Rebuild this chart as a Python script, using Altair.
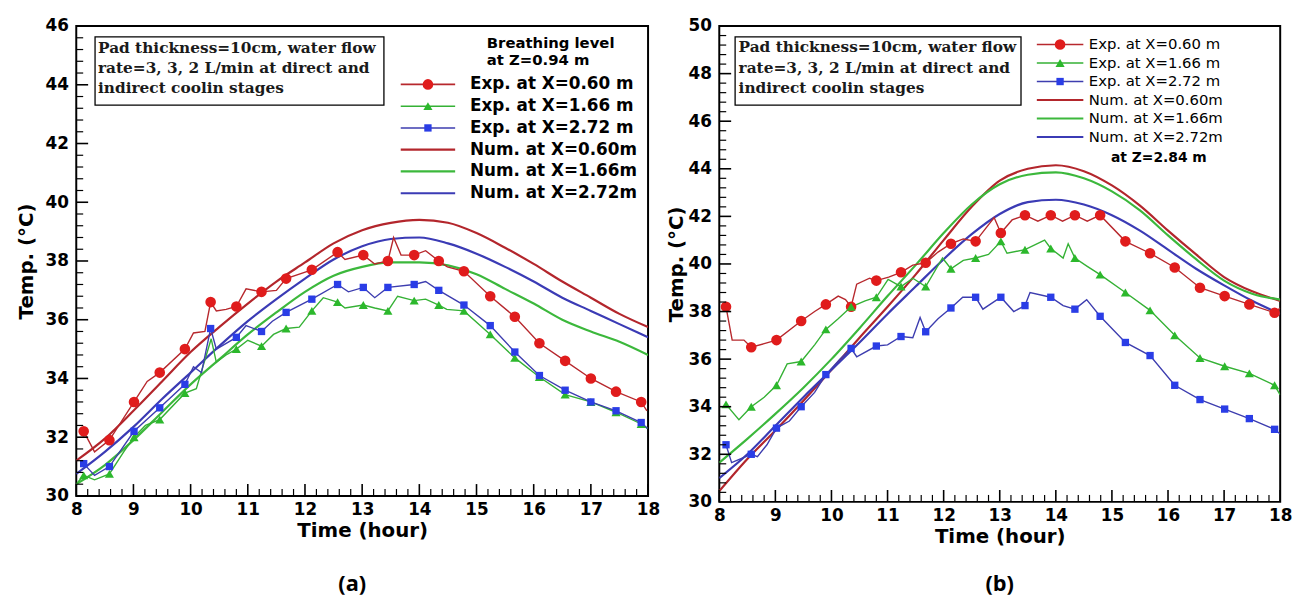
import altair as alt
import pandas as pd
import numpy as np

# ---------------- series names ----------------
EXP = ["Exp. at X=0.60 m", "Exp. at X=1.66 m", "Exp. at X=2.72 m"]
NUM = ["Num. at X=0.60m", "Num. at X=1.66m", "Num. at X=2.72m"]

# ---------------- panel (a): breathing level Z = 0.94 m ----------------
a_marker_t = [8.13, 8.58, 9.01, 9.46, 9.90, 10.35, 10.80, 11.24, 11.67, 12.12, 12.57, 13.02,
              13.45, 13.91, 14.34, 14.78, 15.24, 15.67, 16.10, 16.55, 17.00, 17.44, 17.88]
a_exp_060 = [32.2, 31.9, 33.2, 34.2, 35.0, 36.6, 36.45, 36.95, 37.4, 37.7, 38.3, 38.2,
             38.0, 38.2, 38.0, 37.65, 36.8, 36.1, 35.2, 34.6, 34.0, 33.55, 33.2]
a_exp_166 = [30.7, 30.75, 32.0, 32.6, 33.5, None, 35.0, 35.1, 35.7, 36.3, 36.6, 36.5,
             36.3, 36.65, 36.5, 36.3, 35.5, 34.7, 34.05, 33.45, 33.2, 32.85, 32.45]
a_exp_272 = [31.1, 31.0, 32.2, 33.0, 33.8, 35.7, 35.4, 35.6, 36.25, 36.7, 37.2, 37.1,
             37.1, 37.2, 37.0, 36.5, 35.8, 34.9, 34.1, 33.6, 33.2, 32.9, 32.5]
# intermediate (unmarked) vertices of the experimental curves
a_x060_t = [8.32, 9.24, 10.05, 10.25, 10.45, 10.62, 10.97, 11.50, 12.70, 13.22, 13.55, 13.68, 14.11, 14.49, 17.98]
a_x060_T = [31.5, 33.9, 35.55, 35.6, 36.3, 36.35, 37.05, 37.0, 38.05, 37.9, 38.8, 38.2, 38.35, 37.8, 32.9]
a_x166_t = [8.02, 8.32, 8.83, 9.21, 10.10, 10.36, 10.45, 10.62, 11.00, 11.45, 11.90, 12.32, 12.70,
            13.22, 13.62, 14.11, 14.48, 17.99]
a_x166_T = [30.45, 30.55, 31.5, 32.4, 33.65, 35.35, 34.55, 34.8, 35.3, 35.5, 35.75, 36.75, 36.4,
            36.4, 36.8, 36.7, 36.35, 32.3]
a_x272_t = [8.32, 10.05, 10.19, 10.45, 10.97, 11.43, 12.76, 13.22, 14.11, 17.99]
a_x272_T = [30.7, 34.4, 34.2, 35.0, 35.8, 35.95, 36.95, 36.75, 37.3, 32.3]

num_t = [8.0, 8.5, 9.0, 9.5, 10.0, 10.5, 11.0, 11.5, 12.0, 12.5, 13.0,
         13.5, 14.0, 14.5, 15.0, 15.5, 16.0, 16.5, 17.0, 17.5, 18.0]
a_num_060 = [31.2, 31.95, 32.9, 33.9, 34.9, 35.75, 36.55, 37.3, 37.95, 38.6, 39.05,
             39.3, 39.4, 39.3, 38.95, 38.45, 37.9, 37.3, 36.75, 36.2, 35.75]
a_num_166 = [30.4, 31.05, 31.9, 32.85, 33.8, 34.65, 35.5, 36.25, 36.95, 37.5, 37.8,
             37.95, 37.95, 37.85, 37.55, 37.05, 36.55, 36.0, 35.6, 35.25, 34.8]
a_num_272 = [30.75, 31.5, 32.35, 33.3, 34.2, 35.1, 35.95, 36.7, 37.4, 38.05, 38.5,
             38.75, 38.8, 38.6, 38.25, 37.8, 37.3, 36.75, 36.3, 35.85, 35.4]

# ---------------- panel (b): Z = 2.84 m ----------------
b_marker_t = [8.12, 8.57, 9.02, 9.46, 9.90, 10.35, 10.80, 11.24, 11.68, 12.13, 12.57, 13.02,
              13.45, 13.91, 14.34, 14.79, 15.24, 15.68, 16.12, 16.57, 17.01, 17.45, 17.90]
b_exp_060 = [38.2, 36.5, 36.8, 37.6, 38.3, 38.2, 39.3, 39.65, 40.05, 40.85, 40.95, 41.3,
             42.05, 42.05, 42.05, 42.05, 40.95, 40.45, 39.85, 39.0, 38.65, 38.3, 37.95]
b_exp_166 = [34.1, 34.0, 34.9, 35.9, 37.25, 38.2, 38.6, 39.05, 39.05, 39.8, 40.25, 40.95,
             40.6, 40.65, 40.25, 39.55, 38.8, 38.05, 37.0, 36.05, 35.7, 35.4, 34.9]
b_exp_272 = [32.4, 32.0, 33.1, 34.0, 35.35, 36.45, 36.55, 36.95, 37.15, 38.15, 38.6, 38.6,
             38.25, 38.6, 38.1, 37.8, 36.7, 36.15, 34.9, 34.3, 33.9, 33.5, 33.05]
b_x060_t = [8.23, 8.44, 8.80, 9.70, 10.12, 10.25, 10.45, 10.68, 11.02, 11.45, 11.90, 12.35,
            12.90, 13.22, 13.68, 14.12, 14.56, 18.0]
b_x060_T = [36.8, 36.8, 36.65, 38.0, 38.65, 38.5, 39.15, 39.4, 39.45, 39.95, 40.5, 41.05,
            41.95, 41.85, 41.8, 41.8, 41.8, 38.15]
b_x166_t = [8.35, 8.80, 9.21, 9.70, 10.12, 10.60, 11.01, 11.45, 11.98, 12.35, 12.80, 13.13,
            13.80, 14.13, 14.22, 14.56, 18.0]
b_x166_T = [33.45, 34.4, 35.8, 36.6, 37.7, 38.45, 39.35, 39.4, 40.25, 40.15, 40.4, 40.45,
            41.0, 40.25, 40.85, 39.9, 34.5]
b_x272_t = [8.22, 8.68, 8.85, 9.25, 9.70, 10.15, 10.45, 11.00, 11.45, 11.58, 11.90, 12.34,
            12.70, 13.25, 13.54, 14.13, 14.55, 18.0]
b_x272_T = [31.65, 31.9, 32.4, 33.4, 34.6, 36.0, 36.1, 36.6, 36.9, 37.75, 37.7, 38.6,
            38.1, 38.0, 38.8, 38.25, 38.5, 32.85]
b_num_060 = [30.45, 31.8, 33.0, 34.25, 35.55, 36.9, 38.2, 39.55, 41.0, 42.4, 43.5,
             44.0, 44.15, 43.9, 43.3, 42.45, 41.4, 40.4, 39.45, 38.85, 38.45]
b_num_166 = [31.65, 32.65, 33.7, 34.8, 36.0, 37.3, 38.65, 39.95, 41.3, 42.5, 43.35,
             43.75, 43.85, 43.6, 43.05, 42.25, 41.2, 40.2, 39.3, 38.75, 38.5]
b_num_272 = [31.0, 32.0, 33.2, 34.4, 35.55, 36.7, 37.9, 39.05, 40.2, 41.25, 42.1,
             42.6, 42.7, 42.5, 42.05, 41.4, 40.6, 39.8, 39.1, 38.45, 37.9]

BOX_TEXT = "Pad thickness=10cm, water flow\nrate=3, 3, 2 L/min at direct and\nindirect coolin stages"

# ---------------- styling ----------------
LINE_COLORS = ["#b7282d", "#35b135", "#3d3daf", "#b3262c", "#3cb83c", "#3b3bb5"]
MARK_COLORS = ["#e01c1c", "#2cb82c", "#2a3de6"]
SHAPES = ["circle", "triangle-up", "square"]
AX_FONT = "DejaVu Sans"

color_scale = alt.Scale(domain=EXP + NUM, range=LINE_COLORS)
fill_scale = alt.Scale(domain=EXP, range=MARK_COLORS)
shape_scale = alt.Scale(domain=EXP, range=SHAPES)
size_scale = alt.Scale(domain=EXP, range=[115, 55, 85])


def exp_frames(marker_t, vals, extras):
    line_rows, mark_rows = [], []
    for name, v, (et, ev) in zip(EXP, vals, extras):
        for t, y in zip(marker_t, v):
            if y is not None:
                line_rows.append((name, t, y))
                mark_rows.append((name, t, y))
        for t, y in zip(et, ev):
            line_rows.append((name, t, y))
    cols = ["series", "t", "T"]
    return pd.DataFrame(line_rows, columns=cols), pd.DataFrame(mark_rows, columns=cols)


def num_frame(vals):
    rows = []
    for name, v in zip(NUM, vals):
        rows += [(name, t, y) for t, y in zip(num_t, v)]
    return pd.DataFrame(rows, columns=["series", "t", "T"])


def panel(marker_t, exp_vals, extras, num_vals, ymax, W, H, leg, note, box, caption, cap_dx,
          cap_offset, ytitle_pad):
    xs = alt.Scale(domain=[8, 18], nice=False, zero=False)
    ys = alt.Scale(domain=[30, ymax], nice=False, zero=False)
    x_axis = alt.Axis(values=list(range(8, 19)), format="d", ticks=False, tickSize=0, domain=False,
                      grid=False, labelFlush=False, labelOverlap=False, labelPadding=6,
                      labelFont=AX_FONT, labelFontSize=17, labelFontWeight="bold", labelColor="black",
                      title="Time (hour)", titleFont=AX_FONT, titleFontSize=20, titleFontWeight="bold",
                      titlePadding=3, titleColor="black")
    y_axis = alt.Axis(values=list(range(30, ymax + 1, 2)), ticks=False, tickSize=0, domain=False,
                      grid=False, labelOverlap=False, labelPadding=8,
                      labelFont=AX_FONT, labelFontSize=17, labelFontWeight="bold", labelColor="black",
                      title="Temp. (°C)", titleFont=AX_FONT, titleFontSize=20, titleFontWeight="bold",
                      titlePadding=ytitle_pad, titleColor="black")

    def X(field):
        return alt.X(field, scale=xs, axis=x_axis, title="Time (hour)")

    def Y(field):
        return alt.Y(field, scale=ys, axis=y_axis, title="Temp. (°C)")

    exp_line_df, exp_mark_df = exp_frames(marker_t, exp_vals, extras)
    num_df = num_frame(num_vals)

    num_lines = alt.Chart(num_df).mark_line(strokeWidth=2.2, clip=True, interpolate="monotone").encode(
        x=X("t:Q"), y=Y("T:Q"),
        color=alt.Color("series:N", scale=color_scale, legend=None),
        detail="series:N",
    )
    exp_lines = alt.Chart(exp_line_df).mark_line(strokeWidth=1.4, clip=True).encode(
        x=X("t:Q"), y=Y("T:Q"),
        color=alt.Color("series:N", scale=color_scale, legend=None),
        detail="series:N",
    )
    exp_marks = alt.Chart(exp_mark_df).mark_point(filled=True, opacity=1, strokeWidth=0).encode(
        x=X("t:Q"), y=Y("T:Q"),
        fill=alt.Fill("series:N", scale=fill_scale, legend=None),
        shape=alt.Shape("series:N", scale=shape_scale, legend=None),
        size=alt.Size("series:N", scale=size_scale, legend=None),
    )

    # inward tick marks on left and bottom edges
    y_major = pd.DataFrame({"T": list(range(30, ymax + 1, 2))})
    y_minor = pd.DataFrame({"T": [v for v in np.round(np.arange(30, ymax + 0.01, 0.4), 1)
                                  if abs(v / 2 - round(v / 2)) > 1e-6]})
    x_major = pd.DataFrame({"t": list(range(8, 19))})
    x_minor = pd.DataFrame({"t": [v for v in np.round(np.arange(8, 18.01, 0.2), 1)
                                  if abs(v - round(v)) > 1e-6]})
    ticks = [
        alt.Chart(y_major).mark_rule(color="black", strokeWidth=1.6).encode(
            y=Y("T:Q"), x=alt.value(0), x2=alt.value(12)),
        alt.Chart(y_minor).mark_rule(color="black", strokeWidth=1.2).encode(
            y=Y("T:Q"), x=alt.value(0), x2=alt.value(7)),
        alt.Chart(x_major).mark_rule(color="black", strokeWidth=1.6).encode(
            x=X("t:Q"), y=alt.value(H), y2=alt.value(H - 12)),
        alt.Chart(x_minor).mark_rule(color="black", strokeWidth=1.2).encode(
            x=X("t:Q"), y=alt.value(H), y2=alt.value(H - 7)),
    ]

    # annotation box
    one = pd.DataFrame({"k": [0]})
    box_rect = alt.Chart(one).mark_rect(fill="white", stroke="black", strokeWidth=1.3).encode(
        x=alt.value(box["x1"]), x2=alt.value(box["x2"]), y=alt.value(box["y1"]), y2=alt.value(box["y2"]))
    box_text = alt.Chart(one).mark_text(
        align="left", baseline="top", lineBreak="\n", font="DejaVu Serif", fontWeight="bold",
        fontSize=box["fs"], lineHeight=box["lh"], color="#1a1a1a").encode(
        x=alt.value(box["tx"]), y=alt.value(box["ty"]), text=alt.value(BOX_TEXT))

    # legend (pixel positions inside the plot)
    leg_df = pd.DataFrame({"series": EXP + NUM, "row": list(range(6))})
    leg_df["ly"] = leg["y0"] + leg_df["row"] * leg["dy"]
    leg_df["lx1"] = leg["x1"]
    leg_df["lx2"] = leg["x2"]
    leg_df["mx"] = (leg["x1"] + leg["x2"]) / 2
    leg_df["tx"] = leg["tx"]
    leg_exp = leg_df[leg_df["row"] < 3]
    leg_num = leg_df[leg_df["row"] >= 3]
    legend_layers = [
        alt.Chart(leg_exp).mark_rule(strokeWidth=1.6).encode(
            x=alt.X("lx1:Q", scale=None, axis=None), x2="lx2:Q", y=alt.Y("ly:Q", scale=None, axis=None),
            color=alt.Color("series:N", scale=color_scale, legend=None)),
        alt.Chart(leg_num).mark_rule(strokeWidth=2.2).encode(
            x=alt.X("lx1:Q", scale=None, axis=None), x2="lx2:Q", y=alt.Y("ly:Q", scale=None, axis=None),
            color=alt.Color("series:N", scale=color_scale, legend=None)),
        alt.Chart(leg_exp).mark_point(filled=True, opacity=1, strokeWidth=0).encode(
            x=alt.X("mx:Q", scale=None, axis=None), y=alt.Y("ly:Q", scale=None, axis=None),
            fill=alt.Fill("series:N", scale=fill_scale, legend=None),
            shape=alt.Shape("series:N", scale=shape_scale, legend=None),
            size=alt.Size("series:N", scale=size_scale, legend=None)),
        alt.Chart(leg_df).mark_text(align="left", baseline="middle", font=AX_FONT, fontSize=leg["fs"],
                                    fontWeight=leg["fw"], color="black").encode(
            x=alt.X("tx:Q", scale=None, axis=None), y=alt.Y("ly:Q", scale=None, axis=None), text="series:N"),
    ]
    note_layer = alt.Chart(one).mark_text(
        align="left", baseline="top", lineBreak="\n", font=AX_FONT, fontSize=note["fs"],
        fontWeight=note["fw"], lineHeight=note["lh"], color="black").encode(
        x=alt.value(note["x"]), y=alt.value(note["y"]), text=alt.value(note["text"]))

    return alt.layer(
        num_lines, exp_lines, exp_marks, *ticks, box_rect, box_text, *legend_layers, note_layer
    ).properties(
        width=W, height=H,
        title=alt.TitleParams(caption, orient="bottom", anchor="middle", frame="group", offset=cap_offset,
                              font="Open Sans", fontSize=22, fontWeight="bold", color="black", dx=cap_dx),
    )


pa = panel(
    a_marker_t, [a_exp_060, a_exp_166, a_exp_272],
    [(a_x060_t, a_x060_T), (a_x166_t, a_x166_T), (a_x272_t, a_x272_T)],
    [a_num_060, a_num_166, a_num_272], 46, 578, 475,
    leg=dict(y0=59, dy=22, x1=328, x2=383, tx=398, fs=17, fw="bold"),
    note=dict(x=415, y=10, fs=15, fw="bold", lh=17, text="Breathing level\nat Z=0.94 m"),
    box=dict(x1=19, x2=311, y1=11, y2=80, tx=22, ty=15, fs=15.5, lh=20.5),
    caption="(a)", cap_dx=-10, cap_offset=34, ytitle_pad=9,
)
pb = panel(
    b_marker_t, [b_exp_060, b_exp_166, b_exp_272],
    [(b_x060_t, b_x060_T), (b_x166_t, b_x166_T), (b_x272_t, b_x272_T)],
    [b_num_060, b_num_166, b_num_272], 50, 567, 481,
    leg=dict(y0=18.7, dy=18.7, x1=321, x2=368, tx=373.5, fs=15, fw="normal"),
    note=dict(x=396, y=126, fs=14, fw="bold", lh=15, text="at Z=2.84 m"),
    box=dict(x1=16, x2=305, y1=11, y2=80, tx=19.5, ty=14, fs=15.5, lh=21),
    caption="(b)", cap_dx=0, cap_offset=28, ytitle_pad=2,
)

chart = alt.hconcat(pa, pb, spacing=4).configure_view(
    stroke="black", strokeWidth=2
).properties(padding={"left": 7, "top": 5, "right": 5, "bottom": 5})

chart.save("out.html", embed_options={"renderer": "svg", "actions": False})
